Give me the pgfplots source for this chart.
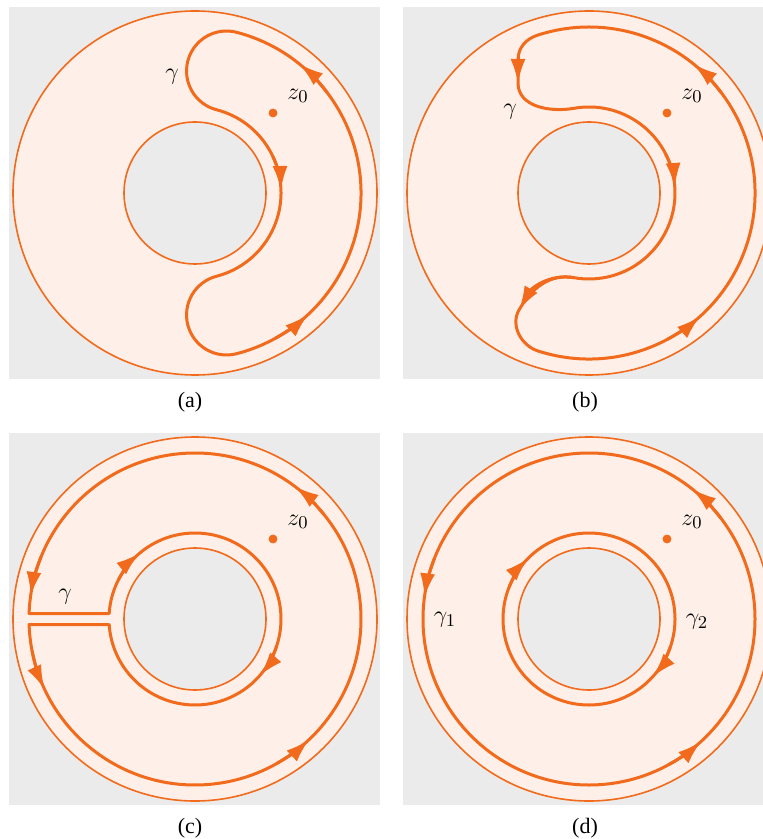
\documentclass[border=0pt]{standalone}
\usepackage{fontspec}
\setmainfont{Liberation Serif}
\usepackage{pgfplots}
\pgfplotsset{compat=1.18}
\usetikzlibrary{arrows.meta}
\definecolor{org}{HTML}{F26A1B}
\definecolor{peach}{HTML}{FEF0E8}
\definecolor{bggray}{HTML}{EBEBEB}
\pgfplotsset{panel/.style={anchor=origin, x=0.5pt, y=0.5pt, xmin=-186, xmax=185, ymin=-186, ymax=186, hide axis, clip=true}}
\tikzset{
  thino/.style={draw=org, line width=0.8pt},
  thicko/.style={draw=org, line width=1.5pt, line join=round},
  arr/.style={color=org, line width=1.5pt, -{Latex[length=12pt,width=7.5pt]}},
  lab/.style={font=\fontsize{12.5}{14}\selectfont},
  captxt/.style={font=\fontsize{11}{13}\selectfont}
}
\newcommand{\annulus}{%
  \fill[bggray] (axis cs:-186,-186) rectangle (axis cs:185,186);
  \fill[peach, even odd rule] (axis cs:0,0) circle[radius=91pt] (axis cs:0,0) circle[radius=35.5pt];
  \draw[thino] (axis cs:0,0) circle[radius=91pt];
  \draw[thino] (axis cs:0,0) circle[radius=35.5pt];
}
\begin{document}
\begin{tikzpicture}
% ---------------- (a)
\begin{axis}[panel, at={(97.5pt,-96.5pt)}]
\annulus
\draw[thicko] ([shift={(axis cs:0,0)}]-75.5:83pt) arc[start angle=-75.5, end angle=75.5, radius=83pt]
  arc[start angle=75.5, end angle=255.5, radius=20pt]
  arc[start angle=75.5, end angle=-75.5, radius=43pt]
  arc[start angle=104.5, end angle=284.5, radius=20pt] -- cycle;
\draw[arr] ([shift={(axis cs:0,0)}]37:83pt) arc[start angle=37, end angle=51, radius=83pt];
\draw[arr] ([shift={(axis cs:0,0)}]-61:83pt) arc[start angle=-61, end angle=-47, radius=83pt];
\draw[arr] ([shift={(axis cs:0,0)}]25:43pt) arc[start angle=25, end angle=2, radius=43pt];
\addplot[only marks, mark=*, mark size=2pt, color=org] coordinates {(78,80)};
\node[lab] at (axis cs:103,97) {$z_0$};
\node[lab] at (axis cs:-23,116) {$\gamma$};
\end{axis}
% ---------------- (b)
\begin{axis}[panel, xmax=174, at={(294.5pt,-96.5pt)}]
\annulus
\draw[thicko] ([shift={(axis cs:0,0)}]-108:83pt) arc[start angle=-108, end angle=108, radius=83pt]
  to[out=198, in=90] (axis cs:-71,133) -- (axis cs:-71,110)
  to[out=-90, in=190] ([shift={(axis cs:0,0)}]100:43pt)
  arc[start angle=100, end angle=-100, radius=43pt]
  to[out=170, in=60] (axis cs:-70,-117)
  to[out=-120, in=162] ([shift={(axis cs:0,0)}]-108:83pt) -- cycle;
\draw[arr] ([shift={(axis cs:0,0)}]37:83pt) arc[start angle=37, end angle=51, radius=83pt];
\draw[arr] ([shift={(axis cs:0,0)}]-62:83pt) arc[start angle=-62, end angle=-48, radius=83pt];
\draw[arr] ([shift={(axis cs:0,0)}]27:43pt) arc[start angle=27, end angle=4, radius=43pt];
\draw[arr] (axis cs:-71,137) -- (axis cs:-71,110);
\draw[arr] ([shift={(axis cs:0,0)}]-100:43pt) to[out=170, in=60] (axis cs:-70,-117);
\addplot[only marks, mark=*, mark size=2pt, color=org] coordinates {(78,80)};
\node[lab] at (axis cs:103,97) {$z_0$};
\node[lab] at (axis cs:-79,81) {$\gamma$};
\end{axis}
% ---------------- (c)
\begin{axis}[panel, at={(97.5pt,-309.5pt)}]
\annulus
\draw[thicko] ([shift={(axis cs:0,0)}]178.1:83pt) -- ([shift={(axis cs:0,0)}]176.33:43pt)
  arc[start angle=176.33, end angle=-176.33, radius=43pt]
  -- ([shift={(axis cs:0,0)}]181.9:83pt)
  arc[start angle=181.9, end angle=538.1, radius=83pt] -- cycle;
\draw[arr] ([shift={(axis cs:0,0)}]39:83pt) arc[start angle=39, end angle=53, radius=83pt];
\draw[arr] ([shift={(axis cs:0,0)}]158:83pt) arc[start angle=158, end angle=172, radius=83pt];
\draw[arr] ([shift={(axis cs:0,0)}]191:83pt) arc[start angle=191, end angle=205, radius=83pt];
\draw[arr] ([shift={(axis cs:0,0)}]-60.5:83pt) arc[start angle=-60.5, end angle=-46.5, radius=83pt];
\draw[arr] ([shift={(axis cs:0,0)}]153:43pt) arc[start angle=153, end angle=130, radius=43pt];
\draw[arr] ([shift={(axis cs:0,0)}]-18:43pt) arc[start angle=-18, end angle=-41, radius=43pt];
\addplot[only marks, mark=*, mark size=2pt, color=org] coordinates {(78,80)};
\node[lab] at (axis cs:103,97) {$z_0$};
\node[lab] at (axis cs:-130,22) {$\gamma$};
\end{axis}
% ---------------- (d)
\begin{axis}[panel, xmax=174, at={(294.5pt,-309.5pt)}]
\annulus
\draw[thicko] (axis cs:0,0) circle[radius=83pt];
\draw[thicko] (axis cs:0,0) circle[radius=43pt];
\draw[arr] ([shift={(axis cs:0,0)}]37.5:83pt) arc[start angle=37.5, end angle=51.5, radius=83pt];
\draw[arr] ([shift={(axis cs:0,0)}]158.5:83pt) arc[start angle=158.5, end angle=172.5, radius=83pt];
\draw[arr] ([shift={(axis cs:0,0)}]-61.5:83pt) arc[start angle=-61.5, end angle=-47.5, radius=83pt];
\draw[arr] ([shift={(axis cs:0,0)}]158:43pt) arc[start angle=158, end angle=135, radius=43pt];
\draw[arr] ([shift={(axis cs:0,0)}]-19:43pt) arc[start angle=-19, end angle=-42, radius=43pt];
\addplot[only marks, mark=*, mark size=2pt, color=org] coordinates {(78,80)};
\node[lab] at (axis cs:103,97) {$z_0$};
\node[lab] at (axis cs:-144,-1) {$\gamma_1$};
\node[lab] at (axis cs:108,-3) {$\gamma_2$};
\end{axis}
% captions
\node[captxt] at (95pt,-201pt) {(a)};
\node[captxt] at (292.5pt,-201pt) {(b)};
\node[captxt] at (95pt,-414pt) {(c)};
\node[captxt] at (292.5pt,-414pt) {(d)};
\pgfresetboundingbox
\path[use as bounding box] (0pt,0pt) rectangle (381.5pt,-419.5pt);
\end{tikzpicture}
\end{document}
